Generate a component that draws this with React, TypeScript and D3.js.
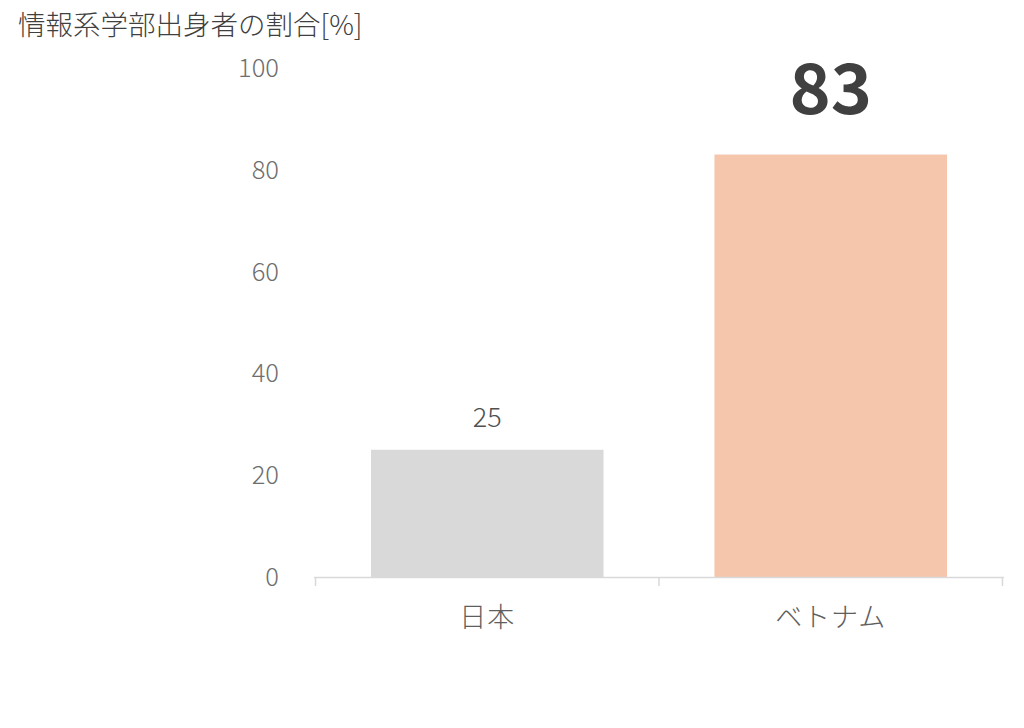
import { useEffect, useRef } from 'react'
import * as d3 from 'd3'

const categories = ['日本', 'ベトナム']
const values = [25, 83]
const yTicks = [0, 20, 40, 60, 80, 100]
const title = '情報系学部出身者の割合[%]'

const barColors = ['#d9d9d9', '#f5c6ab']
const font = '"Noto Sans CJK JP", "Noto Sans", sans-serif'

export default function App() {
  const svgRef = useRef<SVGSVGElement>(null)
  const width = 1024
  const height = 728

  useEffect(() => {
    if (!svgRef.current) return
    const svg = d3.select(svgRef.current)
    svg.selectAll('*').remove()

    const x = d3.scaleBand<string>()
      .domain(categories)
      .range([314, 1004])
      .paddingInner(0.323)
      .paddingOuter(0.166)

    const y = d3.scaleLinear()
      .domain([0, 100])
      .range([577, 68])

    // title
    svg.append('text')
      .attr('x', 18)
      .attr('y', 35)
      .attr('font-family', font)
      .attr('font-size', 27.5)
      .attr('font-weight', 300)
      .attr('fill', '#404040')
      .text(title)

    // y tick labels (no axis line)
    svg.append('g')
      .selectAll('text')
      .data(yTicks)
      .enter().append('text')
      .attr('x', 279)
      .attr('y', d => y(d))
      .attr('dy', '0.35em')
      .attr('text-anchor', 'end')
      .attr('font-family', font)
      .attr('font-size', 25.5)
      .attr('font-weight', 300)
      .attr('fill', '#6e6e6e')
      .text(d => d)

    // bars
    svg.append('g')
      .selectAll('rect')
      .data(values)
      .enter().append('rect')
      .attr('x', (_, i) => x(categories[i]) || 0)
      .attr('y', d => y(d))
      .attr('width', x.bandwidth())
      .attr('height', d => y(0) - y(d))
      .attr('fill', (_, i) => barColors[i])

    // x axis
    const axis = svg.append('g')
    axis.append('line')
      .attr('x1', 314).attr('x2', 1004)
      .attr('y1', y(0) + 0.5).attr('y2', y(0) + 0.5)
      .attr('stroke', '#d9d9d9')
      .attr('stroke-width', 1.5)
    const step = x.step()
    const bounds = [0, 1, 2].map(i => 314 + (x.paddingOuter() - x.paddingInner() / 2) * step + i * step)
    axis.selectAll('.tick')
      .data(bounds)
      .enter().append('line')
      .attr('x1', d => d).attr('x2', d => d)
      .attr('y1', y(0)).attr('y2', y(0) + 9)
      .attr('stroke', '#d9d9d9')
      .attr('stroke-width', 1.5)

    axis.selectAll('.cat')
      .data(categories)
      .enter().append('text')
      .attr('x', d => (x(d) || 0) + x.bandwidth() / 2)
      .attr('y', 618)
      .attr('dy', '0.35em')
      .attr('text-anchor', 'middle')
      .attr('font-family', font)
      .attr('font-size', 27)
      .attr('font-weight', 300)
      .attr('letter-spacing', 1)
      .attr('fill', '#5e5e5e')
      .text(d => d)

    // value labels
    svg.append('text')
      .attr('x', (x(categories[0]) || 0) + x.bandwidth() / 2)
      .attr('y', y(values[0]) - 23)
      .attr('text-anchor', 'middle')
      .attr('font-family', font)
      .attr('font-size', 27)
      .attr('font-weight', 300)
      .attr('fill', '#505050')
      .text(values[0])

    svg.append('text')
      .attr('x', (x(categories[1]) || 0) + x.bandwidth() / 2)
      .attr('y', y(values[1]) - 41)
      .attr('text-anchor', 'middle')
      .attr('font-family', font)
      .attr('font-size', 70)
      .attr('font-weight', 'bold')
      .attr('fill', '#404040')
      .text(values[1])
  }, [])

  return (
    <svg
      ref={svgRef}
      width={width}
      height={height}
      style={{ position: 'absolute', left: 0, top: 0, background: '#fff' }}
    />
  )
}
